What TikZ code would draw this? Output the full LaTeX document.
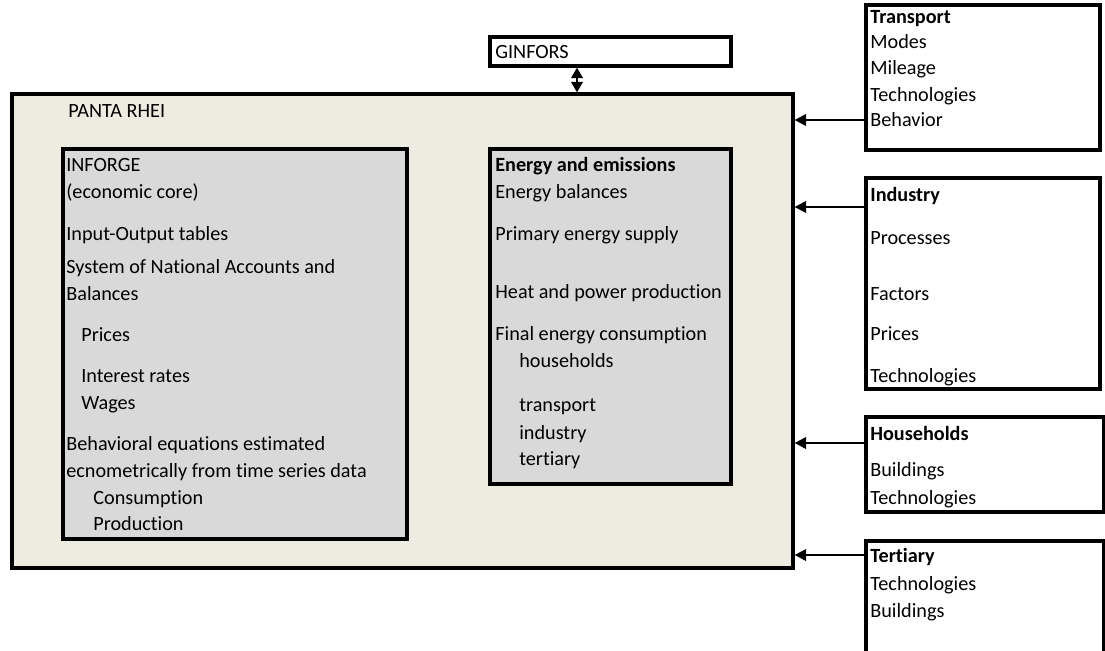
\documentclass[tikz,border=0pt]{standalone}
\usepackage{fontspec}
\setmainfont{Carlito}[Ligatures=NoCommon]
\usetikzlibrary{arrows.meta,fit}
\definecolor{pantabg}{HTML}{EEECE1}
\definecolor{corebg}{HTML}{D9D9D9}

\begin{document}
\begin{tikzpicture}[x=0.02cm,y=-0.02cm,
  box/.style={draw,line width=1.8pt,inner sep=0pt},
  txt/.style={anchor=west,inner sep=0pt,yshift=-1.6pt,text height=8pt,text depth=2.5pt,font=\fontsize{11.5}{13}\selectfont},
  arr/.style={line width=1.2pt,-{Triangle[length=6.5pt,width=6.5pt]}}]
  \useasboundingbox (0,0) rectangle (1105,650);
  % model boxes
  \node[box,fill=pantabg,fit={(12,94) (793,568)}] (panta) {};
  \node[box,fill=corebg,fit={(63,149) (407,539)}] (inforge) {};
  \node[box,fill=corebg,fit={(490,149) (731,484)}] (energy) {};
  \node[box,fit={(490,37) (731,66)}] (ginfors) {};
  % sector boxes
  \node[box,fit={(866,5) (1100,150)}] (transport) {};
  \node[box,fit={(866,178) (1100,389)}] (industry) {};
  \node[box,fit={(866,417) (1104,512)}] (households) {};
  \node[box,fit={(866,541) (1104,700)}] (tertiary) {};
  % texts
  \node[txt] (pantatitle) at (68,110) {PANTA RHEI};
  \node[txt] (ginforstitle) at (495,51) {GINFORS};
  \foreach \x/\y/\t [count=\i] in {66/164/INFORGE, 66/191/(economic core),
      66/233/Input-Output tables, 66/266/System of National Accounts and,
      66/293/Balances, 81/334/Prices, 81/375/Interest rates, 81/402/Wages,
      66/443/Behavioral equations estimated,
      66/470/ecnometrically from time series data,
      93/497/Consumption, 93/523/Production}
    \node[txt] (inf\i) at (\x,\y) {\t};
  \foreach \x/\y/\t [count=\i] in {495/164/\textbf{Energy and emissions},
      495/191/Energy balances, 495/233/Primary energy supply,
      495/291/Heat and power production, 495/333/Final energy consumption,
      519/360/households, 519/404/transport, 519/432/industry, 519/458/tertiary}
    \node[txt] (en\i) at (\x,\y) {\t};
  \foreach \y/\t [count=\i] in {16/\textbf{Transport}, 41/Modes, 67/Mileage,
      94/Technologies, 119/Behavior}
    \node[txt] (tr\i) at (870,\y) {\t};
  \foreach \y/\t [count=\i] in {194/\textbf{Industry}, 237/Processes,
      293/Factors, 333/Prices, 375/Technologies}
    \node[txt] (ind\i) at (870,\y) {\t};
  \foreach \y/\t [count=\i] in {433/\textbf{Households}, 469/Buildings,
      497/Technologies}
    \node[txt] (hh\i) at (870,\y) {\t};
  \foreach \y/\t [count=\i] in {555/\textbf{Tertiary}, 583/Technologies,
      610/Buildings}
    \node[txt] (ter\i) at (870,\y) {\t};
  % links
  \draw[line width=1.6pt,{Triangle[length=6pt,width=6.5pt]}-{Triangle[length=6pt,width=6.5pt]}]
    (ginfors.south -| 577,0) -- (panta.north -| 577,0);
  \draw[arr] (transport.west |- 0,120) -- (panta.east |- 0,120);
  \draw[arr] (industry.west |- 0,207) -- (panta.east |- 0,207);
  \draw[arr] (households.west |- 0,443) -- (panta.east |- 0,443);
  \draw[arr] (tertiary.west |- 0,555) -- (panta.east |- 0,555);
\end{tikzpicture}
\end{document}
